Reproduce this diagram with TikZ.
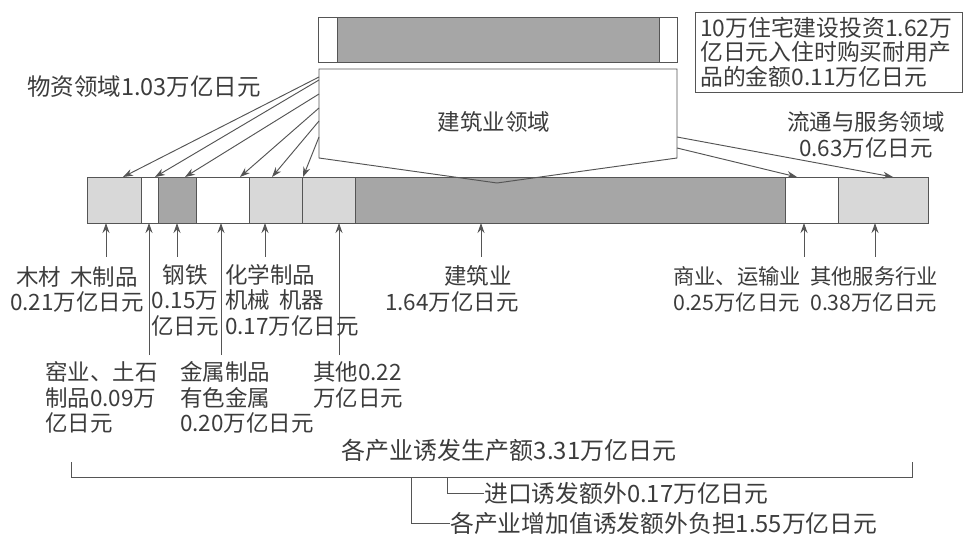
\documentclass[tikz,border=0pt]{standalone}
\usepackage{fontspec}
\newfontfamily\cjk{Noto Sans CJK SC}
\usetikzlibrary{arrows.meta}
\definecolor{lgray}{HTML}{D8D8D8}
\definecolor{dgray}{HTML}{A6A6A6}
\definecolor{lnc}{HTML}{555555}
\definecolor{txc}{HTML}{3C3C3C}
\begin{document}
\begin{tikzpicture}[x=1pt,y=-1pt,
  txt/.style={font=\cjk\fontsize{22.5}{25.5}\selectfont, text=txc, inner sep=0pt},
  seg/.style={draw=lnc, line width=0.9pt, minimum height=46pt, inner sep=0pt, outer sep=0pt},
  tseg/.style={draw=lnc, line width=0.9pt, minimum height=45pt, inner sep=0pt, outer sep=0pt},
  ln/.style={draw=lnc, line width=0.95pt},
  arr/.style={ln, -{Stealth[length=10pt,width=7pt]}}]
\useasboundingbox (0,0) rectangle (977,537);
% top bar
\node[tseg, fill=white, minimum width=19pt] (t1) at (327.5,39.5) {};
\node[tseg, fill=dgray, minimum width=322pt] (t2) at (498,39.5) {};
\node[tseg, fill=white, minimum width=18pt] (t3) at (668,39.5) {};
% main bar
\node[seg, fill=lgray, minimum width=54pt]  (s1) at (114,200) {};
\node[seg, fill=white, minimum width=17pt]  (s2) at (149.5,200) {};
\node[seg, fill=dgray, minimum width=38pt]  (s3) at (177,200) {};
\node[seg, fill=white, minimum width=53pt]  (s4) at (222.5,200) {};
\node[seg, fill=lgray, minimum width=53pt]  (s5) at (275.5,200) {};
\node[seg, fill=lgray, minimum width=53pt]  (s6) at (328.5,200) {};
\node[seg, fill=dgray, minimum width=430pt] (s7) at (570,200) {};
\node[seg, fill=white, minimum width=53pt]  (s8) at (811.5,200) {};
\node[seg, fill=lgray, minimum width=90pt]  (s9) at (883,200) {};
% pentagon
\coordinate (pA) at (319,69);
\coordinate (pB) at (677,69);
\coordinate (pC) at (677,158);
\coordinate (pD) at (497,183);
\coordinate (pE) at (319,158);
\draw[ln] (pA) -- (pB) -- (pC) -- (pD) -- (pE) -- cycle;
\node[txt] (bld) at (494,122) {建筑业领域};
% upper arrows
\coordinate (u1) at (319,77);  \coordinate (v1) at (123,177);
\coordinate (u2) at (319,80);  \coordinate (v2) at (155,177);
\coordinate (u3) at (319,94);  \coordinate (v3) at (185,177);
\coordinate (u4) at (319,108); \coordinate (v4) at (240,177);
\coordinate (u5) at (319,121); \coordinate (v5) at (272,177);
\coordinate (u6) at (319,137); \coordinate (v6) at (303,177);
\coordinate (u7) at (677,137); \coordinate (v7) at (893,177);
\coordinate (u8) at (677,148); \coordinate (v8) at (797,177);
\foreach \i in {1,...,8} {\draw[arr] (u\i) -- (v\i);}
% lower arrows
\coordinate (b1) at (106,257);
\coordinate (b2) at (149,355);
\coordinate (b3) at (177,257);
\coordinate (b4) at (221,355);
\coordinate (b5) at (265,257);
\coordinate (b6) at (339,355);
\coordinate (b7) at (481,257);
\coordinate (b8) at (804,257);
\coordinate (b9) at (875,257);
\draw[arr] (b1) -- (b1 |- s1.south);
\draw[arr] (b2) -- (b2 |- s2.south);
\draw[arr] (b3) -- (b3 |- s3.south);
\draw[arr] (b4) -- (b4 |- s4.south);
\draw[arr] (b5) -- (b5 |- s5.south);
\draw[arr] (b6) -- (b6 |- s6.south);
\draw[arr] (b7) -- (b7 |- s7.south);
\draw[arr] (b8) -- (b8 |- s8.south);
\draw[arr] (b9) -- (b9 |- s9.south);
% top-right box
\node[draw=lnc, line width=0.9pt, minimum width=267pt, minimum height=80pt, inner sep=0pt] (box) at (828.5,52) {};
\node[txt, anchor=west, align=left, font=\cjk\fontsize{22.8}{24.5}\selectfont] (boxt) at (700,52) {10万住宅建设投资1.62万\\亿日元入住时购买耐用产\\品的金额0.11万亿日元};
% top labels
\node[txt, anchor=west, font=\cjk\fontsize{23.5}{25}\selectfont] (wz) at (27,87) {物资领域1.03万亿日元};
\node[txt, align=center, font=\cjk\fontsize{22.5}{26}\selectfont] (lt) at (866,135) {流通与服务领域\\0.63万亿日元};
% lower labels
\node[txt, align=center] (l1) at (77,289.5) {木材\hspace{0.4em}木制品\\0.21万亿日元};
\node[txt, align=center] (l3) at (185,300) {钢铁\\0.15万\\亿日元};
\node[txt, anchor=west, align=left] (l5) at (225,300) {化学制品\\机械\hspace{0.4em}机器\\0.17万亿日元};
\node[txt, anchor=west, align=left] (l2) at (45,397.5) {窑业、土石\\制品0.09万\\亿日元};
\node[txt, anchor=west, align=left] (l4) at (180,397.5) {金属制品\\有色金属\\0.20万亿日元};
\node[txt, anchor=west, align=left] (l6) at (313,385) {其他0.22\\万亿日元};
\node[txt] (l7a) at (478,276) {建筑业};
\node[txt] (l7b) at (452,302) {1.64万亿日元};
\node[txt, anchor=west, align=left, font=\cjk\fontsize{21.3}{25.5}\selectfont] (l8) at (673,289.5) {商业、运输业\\0.25万亿日元};
\node[txt, anchor=west, align=left, font=\cjk\fontsize{21.3}{25.5}\selectfont] (l9) at (810,289.5) {其他服务行业\\0.38万亿日元};
% bracket
\coordinate (k1) at (71,462);
\coordinate (k2) at (71,477);
\coordinate (k3) at (912,477);
\coordinate (k4) at (912,462);
\draw[ln] (k1) -- (k2) -- (k3) -- (k4);
\node[txt, font=\cjk\fontsize{24}{26}\selectfont] (tot) at (509,450) {各产业诱发生产额3.31万亿日元};
\node[txt, anchor=west, font=\cjk\fontsize{23.8}{26}\selectfont] (imp) at (484,493) {进口诱发额外0.17万亿日元};
\node[txt, anchor=west, font=\cjk\fontsize{23.8}{26}\selectfont] (add) at (450,523) {各产业增加值诱发额外负担1.55万亿日元};
\coordinate (m1) at (447,477);
\coordinate (m2) at (411,477);
\draw[ln] (m1) |- (imp.west);
\draw[ln] (m2) |- (add.west);
\end{tikzpicture}
\end{document}
